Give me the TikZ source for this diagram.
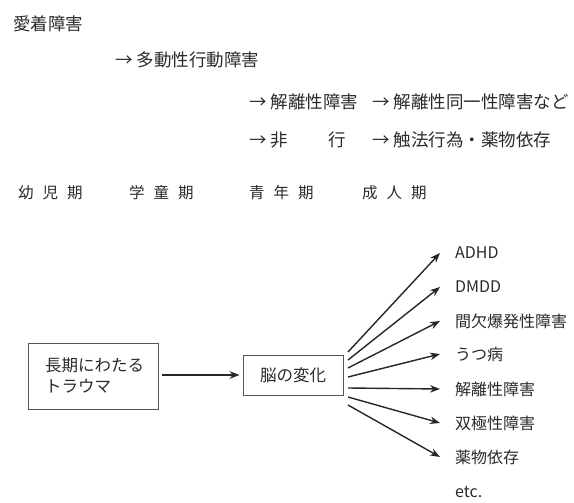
\documentclass[tikz,border=0pt]{standalone}
\usepackage{fontspec}
\setmainfont{Noto Sans CJK JP}
\usetikzlibrary{arrows.meta}
\definecolor{ink}{HTML}{2a2a2a}
\definecolor{frame}{HTML}{555555}
\begin{document}
\begin{tikzpicture}[x=1pt,y=-1pt,
  txt/.style={anchor=west,inner sep=0pt,text=ink,font=\fontsize{17.5}{19}\selectfont},
  btxt/.style={anchor=west,inner sep=0pt,text=ink,font=\fontsize{16.5}{18}\selectfont},
  lbl/.style={anchor=west,inner sep=0pt,text=ink,font=\fontsize{16}{18}\selectfont},
  per/.style={anchor=west,inner sep=0pt,text=ink,font=\fontsize{15.5}{18}\selectfont},
  boxx/.style={draw=frame,line width=0.9pt,inner sep=0pt},
  arr/.style={draw=black!85,line width=1.4pt,-{Stealth[length=10pt,width=7.5pt]}}
]
\useasboundingbox (0,0) rectangle (574,503);
% top timeline text
\node[txt] (t1) at (13,24) {愛着障害};
\node[txt] (t2) at (115,60) {→ 多動性行動障害};
\node[txt] (t3) at (249,102) {→ 解離性障害};
\node[txt] (t4) at (372,102) {→ 解離性同一性障害など};
\node[txt] (t5) at (249,140) {→ 非\hspace{40pt}行};
\node[txt] (t6) at (372,140) {→ 触法行為・薬物依存};
% periods
\node[per] (p1) at (18,193) {幼\hspace{9pt}児\hspace{9pt}期};
\node[per] (p2) at (129,193) {学\hspace{9pt}童\hspace{9pt}期};
\node[per] (p3) at (249,193) {青\hspace{9pt}年\hspace{9pt}期};
\node[per] (p4) at (362,193) {成\hspace{9pt}人\hspace{9pt}期};
% boxes
\node[boxx,minimum width=130pt,minimum height=66pt] (b1) at (93,376) {};
\node[btxt,align=left] (b1t) at (45,376) {長期にわたる\\[3pt]トラウマ};
\node[boxx,minimum width=100pt,minimum height=40pt,font=\fontsize{16.5}{18}\selectfont,text=ink] (b2) at (293,375) {脳の変化};
\draw[arr,shorten <=4pt,shorten >=3pt] (b1.east |- b2.west) -- (b2.west);
% outcome labels
\node[lbl] (o1) at (455,253) {ADHD};
\node[lbl] (o2) at (455,287) {DMDD};
\node[lbl] (o3) at (455,321) {間欠爆発性障害};
\node[lbl] (o4) at (455,354) {うつ病};
\node[lbl] (o5) at (455,389) {解離性障害};
\node[lbl] (o6) at (455,423) {双極性障害};
\node[lbl] (o7) at (455,457) {薬物依存};
\node[lbl] (o8) at (455,492) {etc.};
% fan start points
\coordinate (s1) at (348,352);
\coordinate (s2) at (348,360);
\coordinate (s3) at (348,368);
\coordinate (s4) at (348,377);
\coordinate (s5) at (348,388);
\coordinate (s6) at (348,397);
\coordinate (s7) at (348,405);
\foreach \i in {1,...,7}{
  \draw[arr] (s\i) -- ([xshift=-15pt]o\i.west);
}
\end{tikzpicture}
\end{document}
